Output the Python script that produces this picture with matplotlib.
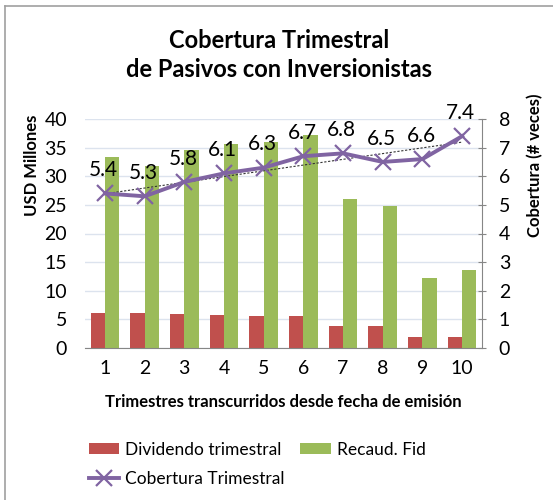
import numpy as np
import matplotlib
matplotlib.use("Agg")
import matplotlib.pyplot as plt
from matplotlib.lines import Line2D

plt.rcParams['font.family'] = ['Lato', 'DejaVu Sans']

# data
trimestres = [1, 2, 3, 4, 5, 6, 7, 8, 9, 10]
dividendo = [6.2, 6.05, 5.9, 5.75, 5.65, 5.6, 3.85, 3.85, 1.85, 1.85]
recaudo = [33.4, 31.8, 34.6, 35.6, 36.0, 37.2, 26.0, 24.8, 12.3, 13.6]
cobertura = [5.4, 5.3, 5.8, 6.1, 6.3, 6.7, 6.8, 6.5, 6.6, 7.4]

c_red = '#C0504D'
c_green = '#9BBB59'
c_purple = '#8064A2'
c_axis = '#868686'
c_grid = '#DCE3EE'

fig = plt.figure(figsize=(5.53, 5.00), dpi=100)
ax = fig.add_axes([85/553, 152/500, 397/553, 229/500])
ax2 = ax.twinx()

x = np.array(trimestres)
w = 0.36
b1 = ax.bar(x - w/2, dividendo, w, color=c_red, label='Dividendo trimestral', zorder=2)
b2 = ax.bar(x + w/2, recaudo, w, color=c_green, label='Recaud. Fid', zorder=2)

ax.set_ylim(0, 40)
ax.set_yticks(range(0, 41, 5))
ax.set_xlim(0.5, 10.5)
ax.set_xticks(x)
ax.set_xticklabels([str(t) for t in trimestres])
ax.yaxis.grid(True, color=c_grid, linewidth=1)
ax.set_axisbelow(True)
for s in ['top', 'right', 'left']:
    ax.spines[s].set_visible(False)
ax.spines['bottom'].set_color(c_axis)
ax.tick_params(axis='both', length=0, labelsize=14)
ax.tick_params(axis='y', pad=13)
ax.tick_params(axis='x', pad=9)

ln, = ax2.plot(x, cobertura, color=c_purple, linewidth=2.8, marker='x',
               markersize=12, markeredgewidth=1.6, label='Cobertura Trimestral', zorder=4)
# linear trend line
p = np.polyfit(x, cobertura, 1)
ax2.plot(x, np.polyval(p, x), color='#333333', linestyle=(0, (2, 1.5)), linewidth=0.8, zorder=3)
for xi, v in zip(x, cobertura):
    ax2.annotate(f'{v:.1f}', (xi, v), xytext=(-1, 9.5), textcoords='offset points',
                 ha='center', va='bottom', fontsize=15)

ax2.set_ylim(0, 8)
ax2.set_yticks(range(0, 9))
for s in ['top', 'left', 'bottom']:
    ax2.spines[s].set_visible(False)
ax2.spines['right'].set_color(c_axis)
ax2.tick_params(axis='y', length=6, direction='inout', color=c_axis, labelsize=14, pad=9)

# axis titles placed directly
fig.text(32/553, 1 - 165/500, 'USD Millones', rotation=90, ha='center', va='center',
         fontsize=12, fontweight='bold')
fig.text(535/553, 1 - 165/500, 'Cobertura (# veces)', rotation=90, ha='center', va='center',
         fontsize=12, fontweight='bold')
ax.set_xlabel('Trimestres transcurridos desde fecha de emisión', fontsize=12, fontweight='bold')
ax.xaxis.set_label_coords(0.5, -0.2)

fig.text(0.505, 0.89, 'Cobertura Trimestral\nde Pasivos con Inversionistas', ha='center',
         va='center', fontsize=17, fontweight='bold', linespacing=1.3)

fig.legend([b1, ln, b2], ['Dividendo trimestral', 'Cobertura Trimestral', 'Recaud. Fid'],
           ncol=2, loc='upper left', bbox_to_anchor=(73/553, 1 - 426/500), frameon=False,
           fontsize=12.5, handlelength=1.75, handleheight=0.6, handletextpad=0.35,
           columnspacing=0.9, labelspacing=0.75)

# outer chart border (cut at right and bottom)
fig.add_artist(Line2D([5/553, 5/553], [0, 1 - 6/500], color='#A0A0A0', linewidth=1.2))
fig.add_artist(Line2D([5/553, 1], [1 - 6/500, 1 - 6/500], color='#A0A0A0', linewidth=1.2))

fig.savefig('out.png', dpi=100)
